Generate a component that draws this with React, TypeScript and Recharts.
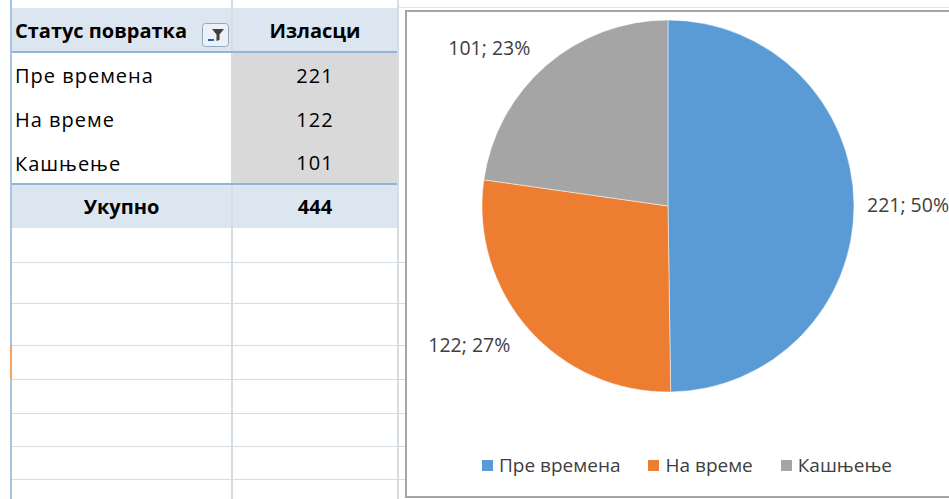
import { PieChart, Pie, Cell, Legend } from 'recharts';

const statuses = ['Пре времена', 'На време', 'Кашњење'];
const departures = [221, 122, 101];
const sliceColors = ['#5B9BD5', '#ED7D31', '#A5A5A5'];

const headerLabel = 'Статус повратка';
const valueHeader = 'Изласци';
const totalLabel = 'Укупно';

const FONT = '"Open Sans", "Noto Sans", sans-serif';
const RADIAN = Math.PI / 180;

const pieData = statuses.map((name, i) => ({ name, value: departures[i] }));
const total = departures.reduce((a, b) => a + b, 0);

// spreadsheet grid lines below the pivot table
const emptyRowLines = [262, 303, 345, 379, 413, 446, 479];

function renderLabel(props: any) {
  const { cx, cy, midAngle, outerRadius, value, percent } = props;
  const cos = Math.cos(-midAngle * RADIAN);
  const sin = Math.sin(-midAngle * RADIAN);
  const right = cos >= 0;
  const r = outerRadius + (right ? 13 : 24);
  return (
    <text
      x={cx + r * cos}
      y={cy + r * sin}
      textAnchor={right ? 'start' : 'end'}
      dominantBaseline="central"
      fill="#404040"
      fontSize={19.5}
      fontFamily={FONT}
    >
      {`${value}; ${Math.round(percent * 100)}%`}
    </text>
  );
}

function LegendContent() {
  return (
    <div style={{ display: 'flex', justifyContent: 'center', alignItems: 'center', gap: 28 }}>
      {statuses.map((s, i) => (
        <div key={s} style={{ display: 'flex', alignItems: 'center' }}>
          <div style={{ width: 11, height: 11, background: sliceColors[i], marginRight: 6 }} />
          <span style={{ color: '#404040', fontSize: 19, fontFamily: FONT, lineHeight: '24px' }}>{s}</span>
        </div>
      ))}
    </div>
  );
}

function FilterButton() {
  return (
    <svg width={27} height={24} style={{ position: 'absolute', left: 202, top: 23 }}>
      <rect x={0.5} y={0.5} width={26} height={23} rx={3} fill="#EDF1F6" stroke="#8FA8C6" />
      <path d="M10 6 L22 6 L17.5 11.5 L17.5 17 L14.5 18 L14.5 11.5 Z" fill="#404040" />
      <rect x={6} y={16} width={6} height={2} fill="#2F5CC0" />
    </svg>
  );
}

function Cell2({ left, top, width, height, bg, children, align = 'left', bold = false }: any) {
  return (
    <div
      style={{
        position: 'absolute',
        left,
        top,
        width,
        height,
        background: bg,
        display: 'flex',
        alignItems: 'center',
        justifyContent: align === 'center' ? 'center' : 'flex-start',
        paddingLeft: align === 'center' ? 0 : 3,
        boxSizing: 'border-box',
        fontWeight: bold ? 700 : 400,
        fontSize: 20,
        letterSpacing: bold ? 0 : 1,
        color: '#000',
      }}
    >
      {children}
    </div>
  );
}

function PivotTable() {
  const rowTop = [52, 96, 140];
  return (
    <>
      {/* grid */}
      {emptyRowLines.map((y) => (
        <div key={y} style={{ position: 'absolute', left: 11, top: y, width: 394, height: 1, background: '#D6DCE4' }} />
      ))}
      <div style={{ position: 'absolute', left: 231, top: 0, width: 2, height: 499, background: '#D6DCE4' }} />
      <div style={{ position: 'absolute', left: 397, top: 0, width: 2, height: 499, background: '#D6DCE4' }} />
      <div style={{ position: 'absolute', left: 10, top: 0, width: 2, height: 499, background: '#A9C4E0' }} />
      <div style={{ position: 'absolute', left: 10, top: 345, width: 2, height: 34, background: '#F4A460' }} />

      {/* header */}
      <Cell2 left={12} top={8} width={219} height={44} bg="#DCE6F1" bold>{headerLabel}</Cell2>
      <Cell2 left={233} top={8} width={164} height={44} bg="#DCE6F1" bold align="center">{valueHeader}</Cell2>
      <div style={{ position: 'absolute', left: 12, top: 51, width: 385, height: 2, background: '#95B3D7' }} />
      <FilterButton />

      {statuses.map((s, i) => (
        <div key={s}>
          <Cell2 left={12} top={rowTop[i] + 1} width={219} height={44} bg="#FFFFFF">{s}</Cell2>
          <Cell2 left={233} top={rowTop[i] + 1} width={164} height={i === 2 ? 42 : 44} bg="#D9D9D9" align="center">
            {departures[i]}
          </Cell2>
        </div>
      ))}

      {/* total */}
      <div style={{ position: 'absolute', left: 12, top: 183, width: 385, height: 2, background: '#95B3D7' }} />
      <Cell2 left={12} top={185} width={219} height={43} bg="#DCE6F1" bold align="center">{totalLabel}</Cell2>
      <Cell2 left={233} top={185} width={164} height={43} bg="#DCE6F1" bold align="center">{total}</Cell2>
    </>
  );
}

export default function App() {
  return (
    <div
      style={{
        position: 'absolute',
        left: 0,
        top: 0,
        width: 949,
        height: 499,
        overflow: 'hidden',
        background: '#FFFFFF',
        fontFamily: FONT,
      }}
    >
      <div style={{ position: 'absolute', left: 397, top: 7, width: 552, height: 1, background: '#DDE3EA' }} />
      <PivotTable />

      {/* chart area */}
      <div
        style={{
          position: 'absolute',
          left: 405,
          top: 10,
          width: 560,
          height: 488,
          border: '2px solid #A6A6A6',
          background: '#FFFFFF',
          boxSizing: 'border-box',
        }}
      />
      <div style={{ position: 'absolute', left: 405, top: 10 }}>
        <PieChart width={544} height={488} margin={{ top: 0, right: 0, bottom: 0, left: 0 }}>
          <Pie
            data={pieData}
            dataKey="value"
            nameKey="name"
            cx={263}
            cy={196}
            outerRadius={186}
            startAngle={90}
            endAngle={-270}
            stroke="#FFFFFF"
            strokeWidth={0.5}
            label={renderLabel}
            labelLine={false}
            legendType="square"
            isAnimationActive={false}
          >
            {pieData.map((d, i) => (
              <Cell key={d.name} fill={sliceColors[i]} />
            ))}
          </Pie>
          <Legend content={<LegendContent />} wrapperStyle={{ top: 443, left: 0, width: 564 }} />
        </PieChart>
      </div>
    </div>
  );
}
